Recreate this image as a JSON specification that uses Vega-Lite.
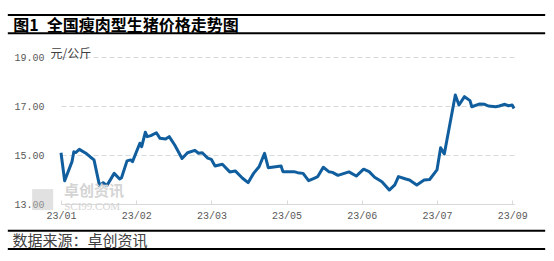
{
  "$schema": "https://vega.github.io/schema/vega-lite/v6.json",
  "width": 453,
  "height": 147,
  "autosize": {"type": "none"},
  "padding": {"left": 61, "top": 57, "right": 40, "bottom": 57},
  "background": "white",
  "config": {"view": {"stroke": null}, "font": "Noto Sans CJK SC"},
  "layer": [
    {
      "data": {"values": [
        {"date": "2023-01-01", "price": 15.09},
        {"date": "2023-01-03", "price": 13.95},
        {"date": "2023-01-07", "price": 14.73},
        {"date": "2023-01-08", "price": 15.13},
        {"date": "2023-01-09", "price": 15.10},
        {"date": "2023-01-11", "price": 15.23},
        {"date": "2023-01-15", "price": 15.05},
        {"date": "2023-01-17", "price": 14.92},
        {"date": "2023-01-19", "price": 14.80},
        {"date": "2023-01-22", "price": 13.75},
        {"date": "2023-01-24", "price": 13.87},
        {"date": "2023-01-26", "price": 13.75},
        {"date": "2023-01-30", "price": 14.25},
        {"date": "2023-02-02", "price": 14.02},
        {"date": "2023-02-03", "price": 14.07},
        {"date": "2023-02-06", "price": 14.76},
        {"date": "2023-02-08", "price": 14.80},
        {"date": "2023-02-09", "price": 14.73},
        {"date": "2023-02-13", "price": 15.48},
        {"date": "2023-02-14", "price": 15.34},
        {"date": "2023-02-16", "price": 15.93},
        {"date": "2023-02-17", "price": 15.75},
        {"date": "2023-02-19", "price": 15.79},
        {"date": "2023-02-22", "price": 15.91},
        {"date": "2023-02-24", "price": 15.68},
        {"date": "2023-02-27", "price": 15.65},
        {"date": "2023-03-01", "price": 15.75},
        {"date": "2023-03-04", "price": 15.41},
        {"date": "2023-03-08", "price": 14.86},
        {"date": "2023-03-11", "price": 15.09},
        {"date": "2023-03-15", "price": 15.19},
        {"date": "2023-03-17", "price": 15.07},
        {"date": "2023-03-19", "price": 15.09},
        {"date": "2023-03-22", "price": 14.87},
        {"date": "2023-03-24", "price": 14.82},
        {"date": "2023-03-26", "price": 14.55},
        {"date": "2023-03-30", "price": 14.62},
        {"date": "2023-04-03", "price": 14.31},
        {"date": "2023-04-06", "price": 14.35},
        {"date": "2023-04-10", "price": 14.05},
        {"date": "2023-04-13", "price": 13.87},
        {"date": "2023-04-16", "price": 14.25},
        {"date": "2023-04-19", "price": 14.52},
        {"date": "2023-04-22", "price": 15.07},
        {"date": "2023-04-24", "price": 14.48},
        {"date": "2023-04-28", "price": 14.52},
        {"date": "2023-05-01", "price": 14.55},
        {"date": "2023-05-02", "price": 14.32},
        {"date": "2023-05-08", "price": 14.32},
        {"date": "2023-05-10", "price": 14.28},
        {"date": "2023-05-13", "price": 14.25},
        {"date": "2023-05-16", "price": 13.95},
        {"date": "2023-05-19", "price": 14.05},
        {"date": "2023-05-21", "price": 14.12},
        {"date": "2023-05-24", "price": 14.50},
        {"date": "2023-05-27", "price": 14.32},
        {"date": "2023-05-29", "price": 14.29},
        {"date": "2023-06-01", "price": 14.17},
        {"date": "2023-06-07", "price": 14.31},
        {"date": "2023-06-11", "price": 14.14},
        {"date": "2023-06-15", "price": 14.42},
        {"date": "2023-06-18", "price": 14.32},
        {"date": "2023-06-21", "price": 14.09},
        {"date": "2023-06-25", "price": 13.91},
        {"date": "2023-06-29", "price": 13.57},
        {"date": "2023-07-02", "price": 13.78},
        {"date": "2023-07-04", "price": 14.12},
        {"date": "2023-07-08", "price": 14.02},
        {"date": "2023-07-10", "price": 13.98},
        {"date": "2023-07-14", "price": 13.78},
        {"date": "2023-07-18", "price": 13.98},
        {"date": "2023-07-21", "price": 14.00},
        {"date": "2023-07-25", "price": 14.39},
        {"date": "2023-07-27", "price": 15.30},
        {"date": "2023-07-29", "price": 15.04},
        {"date": "2023-08-04", "price": 17.45},
        {"date": "2023-08-06", "price": 17.04},
        {"date": "2023-08-09", "price": 17.38},
        {"date": "2023-08-12", "price": 17.22},
        {"date": "2023-08-13", "price": 16.97},
        {"date": "2023-08-17", "price": 17.08},
        {"date": "2023-08-20", "price": 17.07},
        {"date": "2023-08-22", "price": 17.00},
        {"date": "2023-08-26", "price": 16.97},
        {"date": "2023-08-28", "price": 17.00},
        {"date": "2023-08-31", "price": 17.07},
        {"date": "2023-09-02", "price": 17.01},
        {"date": "2023-09-04", "price": 17.04},
        {"date": "2023-09-05", "price": 16.90}
      ]},
      "mark": {"type": "line", "color": "#115e9f", "strokeWidth": 3, "strokeJoin": "round", "clip": false},
      "encoding": {
        "x": {
          "field": "date", "type": "temporal",
          "scale": {"type": "utc", "domain": [{"year": 2023, "month": 1, "date": 1, "utc": true}, {"year": 2023, "month": 9, "date": 5, "utc": true}], "nice": false},
          "axis": {
            "values": [
              {"year": 2023, "month": 1, "date": 1, "utc": true},
              {"year": 2023, "month": 2, "date": 11, "utc": true},
              {"year": 2023, "month": 3, "date": 24, "utc": true},
              {"year": 2023, "month": 5, "date": 4, "utc": true},
              {"year": 2023, "month": 6, "date": 14, "utc": true},
              {"year": 2023, "month": 7, "date": 25, "utc": true},
              {"year": 2023, "month": 9, "date": 4, "utc": true}
            ],
            "format": "%y/%m",
            "grid": false,
            "domainColor": "#d9d9d9",
            "ticks": true,
            "tickSize": -4,
            "tickColor": "#d9d9d9",
            "labelFont": "Liberation Mono",
            "labelFontSize": 10,
            "labelColor": "#595959",
            "labelPadding": 10,
            "labelFlush": false,
            "labelOverlap": false,
            "title": "数据来源：卓创资讯",
            "titleX": -49,
            "titleY": 36,
            "titleAlign": "left",
            "titleBaseline": "middle",
            "titleFontSize": 15,
            "titleFontWeight": "normal",
            "titleColor": "#404040",
            "titleFont": "Noto Sans CJK SC"
          }
        },
        "y": {
          "field": "price", "type": "quantitative",
          "scale": {"domain": [13, 19], "nice": false, "zero": false},
          "axis": {
            "values": [13, 15, 17, 19],
            "format": ".2f",
            "domain": false,
            "ticks": false,
            "gridColor": "#d9d9d9",
            "gridDash": [5, 3],
            "labelFont": "Liberation Mono",
            "labelFontSize": 10,
            "labelColor": "#595959",
            "labelPadding": 17,
            "title": "元/公斤",
            "titleAngle": 0,
            "titleX": -11,
            "titleY": -4,
            "titleAlign": "left",
            "titleBaseline": "middle",
            "titleFontSize": 12,
            "titleFontWeight": "normal",
            "titleColor": "#404040",
            "titleFont": "Noto Sans CJK SC"
          }
        }
      }
    },
    {
      "data": {"values": [{}]},
      "mark": {"type": "rule", "color": "black", "strokeWidth": 2},
      "encoding": {
        "x": {"datum": {"year": 2022, "month": 12, "date": 3, "utc": true}, "type": "temporal"},
        "x2": {"datum": {"year": 2023, "month": 9, "date": 22, "utc": true}},
        "y": {"datum": 20.714, "type": "quantitative"}
      }
    },
    {
      "data": {"values": [{}]},
      "mark": {"type": "rule", "color": "black", "strokeWidth": 2},
      "encoding": {
        "x": {"datum": {"year": 2022, "month": 12, "date": 3, "utc": true}, "type": "temporal"},
        "x2": {"datum": {"year": 2023, "month": 9, "date": 22, "utc": true}},
        "y": {"datum": 19.967, "type": "quantitative"}
      }
    },
    {
      "data": {"values": [{}]},
      "mark": {"type": "rule", "color": "black", "strokeWidth": 2},
      "encoding": {
        "x": {"datum": {"year": 2022, "month": 12, "date": 3, "utc": true}, "type": "temporal"},
        "x2": {"datum": {"year": 2023, "month": 9, "date": 22, "utc": true}},
        "y": {"datum": 11.91, "type": "quantitative"}
      }
    },
    {
      "data": {"values": [{}]},
      "mark": {"type": "rule", "color": "black", "strokeWidth": 2},
      "encoding": {
        "x": {"datum": {"year": 2022, "month": 12, "date": 3, "utc": true}, "type": "temporal"},
        "x2": {"datum": {"year": 2023, "month": 9, "date": 22, "utc": true}},
        "y": {"datum": 11.163, "type": "quantitative"}
      }
    },
    {
      "data": {"values": [{}]},
      "mark": {"type": "text", "align": "left", "baseline": "middle", "fontSize": 16, "fontWeight": "bold", "color": "black", "font": "Noto Sans CJK SC"},
      "encoding": {
        "x": {"datum": {"year": 2022, "month": 12, "date": 6, "utc": true}, "type": "temporal"},
        "y": {"datum": 20.28, "type": "quantitative"},
        "text": {"value": "图1\u2002全国瘦肉型生猪价格走势图"}
      }
    },
    {
      "data": {"values": [{}]},
      "mark": {"type": "point", "shape": "square", "filled": true, "size": 440, "color": "#c4c4c4", "opacity": 0.5},
      "encoding": {
        "x": {"datum": {"year": 2022, "month": 12, "date": 22, "utc": true}, "type": "temporal"},
        "y": {"datum": 13.18, "type": "quantitative"}
      }
    },
    {
      "data": {"values": [{}]},
      "mark": {"type": "text", "align": "center", "baseline": "middle", "fontSize": 15, "fontWeight": "bold", "color": "#d4d4d4", "font": "Noto Sans CJK SC"},
      "encoding": {
        "x": {"datum": {"year": 2023, "month": 1, "date": 19, "utc": true}, "type": "temporal"},
        "y": {"datum": 13.55, "type": "quantitative"},
        "text": {"value": "卓创资讯"}
      }
    },
    {
      "data": {"values": [{}]},
      "mark": {"type": "text", "align": "center", "baseline": "middle", "fontSize": 11, "color": "#d4d4d4", "font": "Liberation Serif"},
      "encoding": {
        "x": {"datum": {"year": 2023, "month": 1, "date": 18, "utc": true}, "type": "temporal"},
        "y": {"datum": 12.86, "type": "quantitative"},
        "text": {"value": "SCI99.COM"}
      }
    }
  ]
}
